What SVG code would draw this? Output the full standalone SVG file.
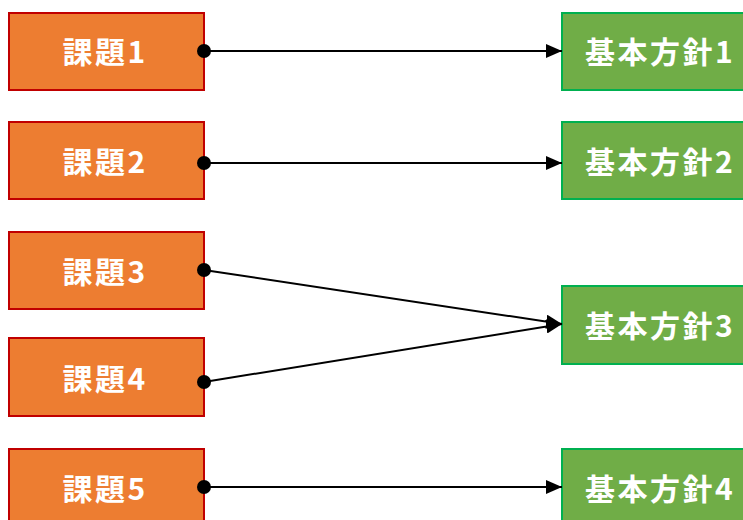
<svg xmlns="http://www.w3.org/2000/svg" width="743" height="520" viewBox="0 0 743 520">
<style>
.issue rect{fill:#ED7D31;stroke:#C00000;stroke-width:2}
.policy rect{fill:#70AD47;stroke:#00B050;stroke-width:2}
text{font-family:"Noto Sans CJK JP","Noto Sans",sans-serif;font-weight:bold;font-size:30px;letter-spacing:2.5px;fill:#fff;text-anchor:middle;dominant-baseline:central}
.conn line{stroke:#000;stroke-width:2}
</style>
<defs>
<marker id="dot" markerWidth="16" markerHeight="16" refX="8" refY="8" markerUnits="userSpaceOnUse"><circle cx="8" cy="8" r="7" fill="#000"/></marker>
<marker id="arr" markerWidth="16" markerHeight="14" refX="16" refY="7" markerUnits="userSpaceOnUse" orient="auto"><path d="M0,0 L16,7 L0,14 Z" fill="#000"/></marker>
</defs>
<g id="issue1" class="issue"><rect x="9" y="13" width="195" height="77"/><text x="105" y="50">課題1</text></g>
<g id="issue2" class="issue"><rect x="9" y="122" width="195" height="77"/><text x="105" y="160">課題2</text></g>
<g id="issue3" class="issue"><rect x="9" y="232" width="195" height="77"/><text x="105" y="270">課題3</text></g>
<g id="issue4" class="issue"><rect x="9" y="338" width="195" height="78"/><text x="105" y="377">課題4</text></g>
<g id="issue5" class="issue"><rect x="9" y="449" width="195" height="80"/><text x="105" y="487">課題5</text></g>
<g id="policy1" class="policy"><rect x="562" y="13" width="195" height="77"/><text x="660" y="50">基本方針1</text></g>
<g id="policy2" class="policy"><rect x="562" y="122" width="195" height="77"/><text x="660" y="160">基本方針2</text></g>
<g id="policy3" class="policy"><rect x="562" y="286" width="195" height="78"/><text x="660" y="324">基本方針3</text></g>
<g id="policy4" class="policy"><rect x="562" y="449" width="195" height="80"/><text x="660" y="487">基本方針4</text></g>
<g id="connectors" class="conn">
<line x1="204" y1="51" x2="562" y2="51" marker-start="url(#dot)" marker-end="url(#arr)"/>
<line x1="204" y1="163" x2="562" y2="163" marker-start="url(#dot)" marker-end="url(#arr)"/>
<line x1="204" y1="270" x2="562" y2="324" marker-start="url(#dot)" marker-end="url(#arr)"/>
<line x1="204" y1="382" x2="562" y2="324" marker-start="url(#dot)" marker-end="url(#arr)"/>
<line x1="204" y1="487" x2="562" y2="487" marker-start="url(#dot)" marker-end="url(#arr)"/>
</g>
</svg>
